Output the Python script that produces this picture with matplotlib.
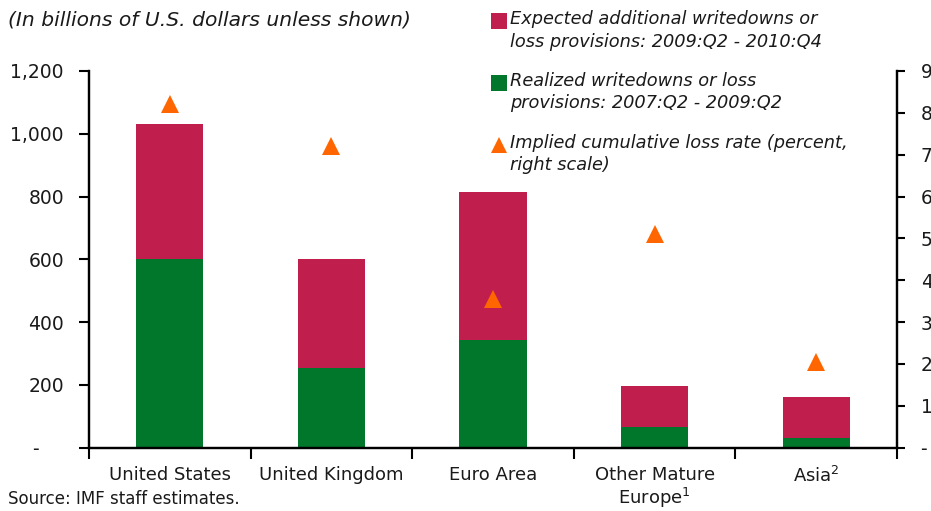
import matplotlib
matplotlib.use('Agg')
import matplotlib.pyplot as plt
from matplotlib.lines import Line2D
from matplotlib.ticker import FuncFormatter, FixedLocator

# values
regions = ['United States', 'United Kingdom', 'Euro Area',
           'Other Mature\nEurope$^1$', 'Asia$^2$']
realized = [600, 255, 342, 65, 30]
expected = [431, 347, 474, 133, 133]
loss_rate = [8.2, 7.2, 3.55, 5.1, 2.05]

legend_labels = ['Expected additional writedowns or\nloss provisions: 2009:Q2 - 2010:Q4',
                 'Realized writedowns or loss\nprovisions: 2007:Q2 - 2009:Q2',
                 'Implied cumulative loss rate (percent,\nright scale)']

red = '#C01E4C'
green = '#00772A'
orange = '#FF6600'
ink = '#1a1a1a'

plt.rcParams['font.family'] = ['DejaVu Sans']
W, H = 931, 511
fig = plt.figure(figsize=(W / 100, H / 100), dpi=100)
ax = fig.add_axes([89 / W, 1 - 447.7 / H, (897 - 89) / W, (447.7 - 71) / H])
ax2 = ax.twinx()

x = list(range(len(regions)))
ax.bar(x, realized, width=0.415, color=green, zorder=2)
ax.bar(x, expected, width=0.415, bottom=realized, color=red, zorder=2)
ax2.plot(x, loss_rate, linestyle='none', marker='^', markersize=13,
         color=orange, markeredgewidth=0, zorder=3)

ax.set_xlim(-0.5, len(regions) - 0.5)
ax.set_ylim(0, 1200)
ax2.set_ylim(0, 9)

ax.set_yticks(range(0, 1201, 200))
ax.yaxis.set_major_formatter(FuncFormatter(
    lambda v, p: '-    ' if v == 0 else '{:,.0f}'.format(v)))
ax2.set_yticks(range(0, 10))
ax2.yaxis.set_major_formatter(FuncFormatter(
    lambda v, p: '-' if v == 0 else '%d' % v))

# boundaries as major ticks, names on minor ticks
ax.xaxis.set_major_locator(FixedLocator([i - 0.5 for i in range(len(regions) + 1)]))
ax.xaxis.set_major_formatter(FuncFormatter(lambda v, p: ''))
ax.xaxis.set_minor_locator(FixedLocator(x))
ax.set_xticklabels(regions, minor=True)
ax.tick_params(axis='x', which='major', direction='out', length=8, width=1.5, color='black')
ax.tick_params(axis='x', which='minor', length=0, pad=13, labelsize=13, labelcolor=ink)
for lab in ax.get_xticklabels(minor=True):
    lab.set_linespacing(1.12)
ax.tick_params(axis='y', direction='out', length=7, width=1.5, pad=11,
               labelsize=13.5, labelcolor=ink)
ax2.tick_params(axis='y', direction='out', length=6, width=1.5, pad=11,
                labelsize=13.5, labelcolor=ink)

for a in (ax, ax2):
    a.spines['top'].set_visible(False)
    for s in ('left', 'right', 'bottom'):
        a.spines[s].set_linewidth(1.6)
        a.spines[s].set_color('black')

# subtitle and source
fig.text(8 / W, 1 - 20 / H, '(In billions of U.S. dollars unless shown)',
         fontsize=14.6, style='italic', color=ink, va='center', ha='left')
fig.text(8 / W, 1 - 499 / H, 'Source: IMF staff estimates.',
         fontsize=12, color=ink, va='center', ha='left')

# legend drawn by hand so the keys sit on the first line
handles = [('s', red, 12), ('s', green, 12), ('^', orange, 12)]
first_line_y = [21.5, 83, 145]
for (m, c, ms), lab, yy in zip(handles, legend_labels, first_line_y):
    fig.add_artist(Line2D([499 / W], [1 - yy / H], marker=m, markersize=ms,
                          color=c, markeredgewidth=0, linestyle='none',
                          transform=fig.transFigure))
    fig.text(510 / W, 1 - (yy - 11) / H, lab, fontsize=12.8, style='italic',
             color=ink, va='top', ha='left', linespacing=1.3)

fig.savefig('out.png', dpi=100)
